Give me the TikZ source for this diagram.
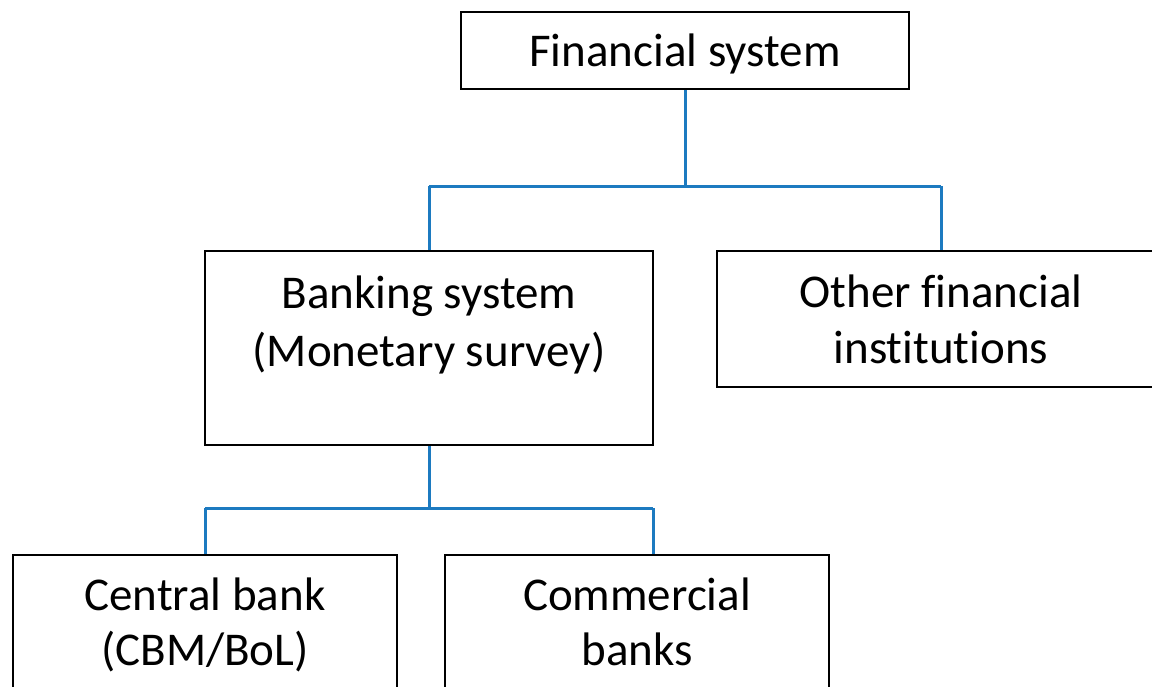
\documentclass[tikz,border=0pt]{standalone}
\usepackage{fontspec}
\setmainfont[Ligatures=NoCommon]{Carlito}
\definecolor{linkblue}{RGB}{28,122,192}
\begin{document}
\begin{tikzpicture}[x=1pt,y=-1pt,
  box/.style={draw=black,line width=2.6pt,fill=white,rectangle,inner sep=0pt},
  txt/.style={anchor=base,inner sep=0pt,font=\fontsize{47}{56}\selectfont},
  link/.style={draw=linkblue,line width=3pt}]
\useasboundingbox (0,0) rectangle (1152,686);
\clip (0,0) rectangle (1152,686);
% junction points
\coordinate (j1) at (685,186);
\coordinate (j1l) at (429,186);
\coordinate (j1r) at (941,186);
\coordinate (j2) at (429,508);
\coordinate (j2l) at (205,508);
\coordinate (j2r) at (653,508);
% boxes
\node[box,minimum width=448pt,minimum height=77pt] (fin) at (685,50.5) {};
\node[box,minimum width=448pt,minimum height=194pt] (bank) at (429,348) {};
\node[box,minimum width=460pt,minimum height=136pt] (other) at (947,319) {};
\node[box,minimum width=384pt,minimum height=180pt] (central) at (205,645) {};
\node[box,minimum width=384pt,minimum height=180pt] (comm) at (637,645) {};
\draw[link] (fin.south) -- (j1);
\draw[link] (j1l) -- (j1r);
\draw[link] (j1l) -- (j1l |- bank.north);
\draw[link] (j1r) -- (j1r |- other.north);
\draw[link] (bank.south) -- (j2);
\draw[link] (j2l) -- (j2r);
\draw[link] (j2l) -- (j2l |- central.north);
\draw[link] (j2r) -- (j2r |- comm.north);
% texts
\node[txt] (fint) at (685,66) {Financial system};
\node[txt] (bankt1) at (429,308) {Banking system};
\node[txt] (bankt2) at (429,366) {(Monetary survey)};
\node[txt] (othert1) at (941,307) {Other financial};
\node[txt] (othert2) at (941,363) {institutions};
\node[txt] (centralt1) at (205,610) {Central bank};
\node[txt] (centralt2) at (205,665) {(CBM/BoL)};
\node[txt] (commt1) at (637,610) {Commercial};
\node[txt] (commt2) at (637,665) {banks};
\end{tikzpicture}
\end{document}
